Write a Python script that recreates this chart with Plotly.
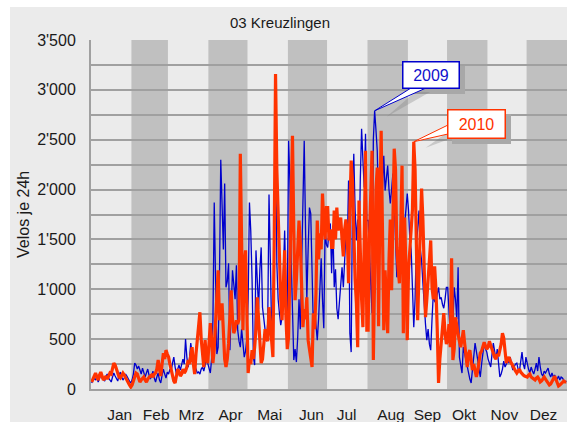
import plotly.graph_objects as go

# ---------------- data ----------------
months = ["Jan", "Feb", "Mrz", "Apr", "Mai", "Jun", "Jul", "Aug", "Sep", "Okt", "Nov", "Dez"]
month_days = [31, 28, 31, 30, 31, 30, 31, 31, 30, 31, 30, 31]
label_days = [22, 50, 77, 107, 137, 169, 196, 230, 258, 286, 317, 347]

velos_2009 = [
    [60, 80, 110, 90, 120, 70, 100, 140, 110, 90, 80, 130, 150, 110, 90, 70, 120, 160, 130, 100, 80, 140, 170, 120, 90, 110, 150, 130, 100, 80, 60],
    [90, 150, 260, 240, 200, 230, 180, 150, 210, 170, 120, 160, 200, 140, 100, 130, 180, 110, 70, 120, 160, 90, 60, 140, 200, 150, 110, 170],
    [150, 200, 180, 260, 320, 220, 150, 200, 240, 190, 260, 300, 250, 500, 320, 220, 300, 460, 360, 280, 240, 200, 160, 170, 150, 200, 220, 180, 250, 300, 260],
    [200, 160, 300, 690, 1870, 900, 350, 420, 1100, 2300, 1690, 1400, 2060, 1020, 1080, 1260, 390, 700, 1190, 1050, 900, 1240, 590, 480, 420, 600, 450, 320, 380, 500],
    [900, 1870, 1590, 1100, 320, 240, 1390, 1100, 800, 1200, 1420, 820, 720, 590, 480, 660, 1950, 1300, 590, 420, 1500, 2720, 1260, 900, 760, 640, 720, 1100, 1590, 1000, 760],
    [2490, 2100, 1290, 620, 290, 400, 270, 520, 900, 600, 1300, 1900, 2490, 1600, 900, 1400, 1820, 1760, 1100, 620, 800, 650, 490, 700, 1000, 1310, 900, 610, 1590, 1450],
    [1420, 1600, 1660, 1160, 1640, 1020, 1200, 810, 700, 900, 1000, 1220, 1020, 1300, 1560, 1400, 2090, 560, 370, 1890, 2360, 1800, 1490, 1700, 1300, 2100, 2610, 2300, 2020, 2560, 1690],
    [1690, 1400, 1100, 760, 2500, 2790, 2600, 2390, 1800, 1360, 1700, 2000, 2340, 1990, 2100, 2240, 2000, 1860, 2000, 2160, 1900, 1400, 1120, 1250, 1150, 1500, 1820, 1600, 1660, 1800, 1960],
    [1790, 1490, 1400, 1000, 620, 900, 1460, 1600, 1790, 1400, 1290, 1060, 800, 650, 490, 600, 450, 390, 700, 960, 880, 860, 950, 1020, 900, 920, 850, 810, 900, 1020],
    [1020, 700, 550, 520, 650, 1020, 900, 700, 1220, 320, 250, 160, 420, 350, 290, 250, 180, 100, 60, 200, 350, 460, 380, 300, 200, 120, 250, 380, 460, 400, 370],
    [300, 250, 220, 350, 460, 380, 300, 400, 250, 120, 150, 200, 280, 220, 250, 300, 260, 320, 240, 190, 220, 250, 260, 200, 180, 300, 370, 250, 200, 320],
    [250, 200, 160, 220, 180, 150, 200, 260, 180, 320, 220, 150, 130, 180, 160, 190, 210, 150, 120, 160, 120, 140, 110, 100, 130, 90, 120, 110, 90, 70, 80],
]

velos_2010 = [
    [70, 100, 130, 160, 120, 90, 140, 170, 130, 90, 110, 130, 100, 140, 160, 150, 200, 260, 240, 200, 150, 120, 110, 130, 160, 140, 110, 90, 60, 40, 20],
    [40, 80, 120, 160, 150, 110, 70, 90, 100, 120, 90, 70, 100, 120, 130, 140, 120, 150, 160, 200, 290, 200, 130, 250, 360, 300, 390, 350],
    [320, 250, 200, 120, 80, 60, 150, 200, 170, 130, 150, 200, 160, 180, 220, 290, 250, 350, 420, 250, 150, 350, 490, 600, 770, 500, 380, 220, 490, 300, 260],
    [490, 660, 500, 260, 400, 660, 900, 1190, 690, 750, 860, 520, 300, 220, 300, 460, 700, 990, 700, 560, 600, 690, 650, 700, 2360, 1200, 590, 1260, 1390, 800],
    [160, 300, 250, 390, 300, 420, 600, 920, 700, 490, 260, 300, 450, 600, 520, 480, 820, 650, 400, 320, 1500, 3160, 2200, 1720, 1400, 900, 690, 1100, 1390, 720, 400],
    [520, 1200, 1800, 2540, 1600, 890, 1100, 1500, 1690, 1460, 1000, 620, 800, 700, 920, 490, 400, 300, 220, 760, 600, 960, 1690, 1300, 1560, 1400, 1960, 1660, 1500, 1820],
    [1820, 1490, 1600, 1420, 1420, 1790, 1500, 1820, 1590, 1650, 1720, 1500, 1330, 1600, 1700, 1550, 1060, 1800, 2290, 2090, 1500, 1100, 860, 420, 1890, 1260, 900, 620, 1690, 2390, 590],
    [590, 1500, 2000, 2390, 290, 1330, 2000, 2220, 630, 1800, 2590, 1600, 590, 1190, 900, 560, 1290, 1700, 990, 1820, 2410, 2200, 1420, 1200, 1060, 1600, 2240, 560, 1720, 1200, 490],
    [1200, 1400, 1500, 1800, 2480, 2200, 1450, 690, 1160, 1500, 2010, 1700, 1230, 720, 900, 1090, 1300, 1490, 1020, 900, 1230, 1000, 600, 60, 300, 460, 620, 760, 560, 450],
    [500, 650, 420, 1310, 290, 400, 720, 600, 550, 480, 420, 500, 590, 460, 300, 220, 350, 390, 290, 190, 250, 200, 120, 180, 300, 360, 380, 420, 470, 430, 400],
    [420, 480, 440, 400, 350, 320, 300, 350, 330, 380, 450, 560, 510, 380, 260, 300, 320, 280, 250, 230, 200, 180, 160, 180, 200, 170, 150, 140, 130, 120],
    [120, 140, 150, 120, 110, 100, 90, 110, 120, 100, 70, 80, 100, 120, 100, 80, 60, 40, 50, 70, 100, 130, 100, 60, 30, 40, 50, 60, 80, 70, 70],
]

y_tick_values = list(range(0, 3501, 250))

# ---------------- helpers ----------------
month_start = [sum(month_days[:i]) for i in range(12)]
year_len = sum(month_days)


def flatten(series):
    xs, ys = [], []
    for m, vals in enumerate(series):
        for i, v in enumerate(vals):
            xs.append(month_start[m] + i + 0.5)
            ys.append(v)
    return xs, ys


x09, y09 = flatten(velos_2009)
x10, y10 = flatten(velos_2010)

W, H = 567, 422
L, R, T, B = 91, 567, 40, 389
YMAX = 3500


def px2x(px):
    return (px - L) / (R - L) * year_len


def py2y(py):
    return (B - py) / (B - T) * YMAX


def ppx(px):
    return (px - L) / (R - L)


def ppy(py):
    return (B - py) / (B - T)


FONT = "Liberation Sans, Arial, sans-serif"
BLUE = "#0000cc"
ORANGE = "#ff3300"

fig = go.Figure()
fig.add_trace(go.Scatter(x=x09, y=y09, mode="lines", name="2009",
                         line=dict(color=BLUE, width=1.3)))
fig.add_trace(go.Scatter(x=x10, y=y10, mode="lines", name="2010",
                         line=dict(color=ORANGE, width=3.2)))

shapes = []
# alternating month bands
for m in range(12):
    if m % 2 == 1:
        shapes.append(dict(type="rect", xref="x", yref="y",
                           x0=month_start[m], x1=month_start[m] + month_days[m],
                           y0=0, y1=YMAX, fillcolor="#c0c0c0",
                           line=dict(width=0), layer="below"))

# white frame strips (top and left)
shapes.append(dict(type="rect", xref="paper", yref="paper",
                   x0=ppx(0), x1=ppx(W), y0=ppy(7), y1=ppy(0),
                   fillcolor="white", line=dict(width=0)))
shapes.append(dict(type="rect", xref="paper", yref="paper",
                   x0=ppx(0), x1=ppx(10), y0=ppy(H), y1=ppy(0),
                   fillcolor="white", line=dict(width=0)))

# peak locations from the data
i09 = max(range(len(y09)), key=lambda k: y09[k])
tip09 = (x09[i09], y09[i09])
sep_start = month_start[8]
sep_idx = [k for k in range(len(x10)) if x10[k] > sep_start]
i10 = max(sep_idx, key=lambda k: y10[k])
tip10 = (x10[i10], y10[i10])

DX = year_len / (R - L)      # data units per pixel (x)
DY = YMAX / (B - T)          # data units per pixel (y)


def path(points):
    return "M " + " L ".join(f"{a},{b}" for a, b in points) + " Z"


def wedge(tip, base_px, color):
    off = [(px2x(p[0] + 4), py2y(p[1] + 4)) for p in base_px]
    shapes.append(dict(type="path", xref="x", yref="y",
                       path=path([(tip[0] + 12 * DX, tip[1] - 6 * DY)] + off),
                       fillcolor="rgba(120,120,120,0.3)", line=dict(width=0),
                       layer="above"))
    pts = [tip] + [(px2x(p[0]), py2y(p[1])) for p in base_px]
    shapes.append(dict(type="path", xref="x", yref="y", path=path(pts),
                       fillcolor="white", line=dict(color=color, width=1),
                       layer="above"))


def box_shadow(x0, y0, x1, y1):
    shapes.append(dict(type="rect", xref="x", yref="y",
                       x0=px2x(x0 + 5), x1=px2x(x1 + 5),
                       y0=py2y(y1 + 5), y1=py2y(y0 + 5),
                       fillcolor="#a8a8a8", line=dict(width=0), layer="above"))


box_shadow(402, 61, 460, 89)
box_shadow(447, 109, 506, 139)
wedge(tip09, [(411, 88), (426, 88)], BLUE)
wedge(tip10, [(448, 125), (448, 134)], ORANGE)

annotations = [
    dict(x=px2x(431), y=py2y(75), xref="x", yref="y", text="2009",
         showarrow=False, font=dict(family=FONT, size=16, color="#1010cc"),
         bgcolor="white", bordercolor=BLUE, borderwidth=1.5, borderpad=1,
         width=53, height=23),
    dict(x=px2x(476.5), y=py2y(124), xref="x", yref="y", text="2010",
         showarrow=False, font=dict(family=FONT, size=16, color=ORANGE),
         bgcolor="white", bordercolor=ORANGE, borderwidth=1.5, borderpad=1,
         width=54, height=25),
    dict(x=ppx(23), y=ppy(215), xref="paper", yref="paper", text="Velos je 24h",
         xanchor="center", yanchor="middle",
         showarrow=False, textangle=-90,
         font=dict(family=FONT, size=16, color="#1a1a1a")),
]

fig.update_layout(
    width=W, height=H,
    margin=dict(l=L, r=W - R, t=T, b=H - B),
    paper_bgcolor="#ebebeb",
    plot_bgcolor="#ebebeb",
    showlegend=False,
    title=dict(text="03 Kreuzlingen", x=280 / W, xanchor="center",
               y=1 - 23 / H, yanchor="middle",
               font=dict(family=FONT, size=15, color="#1a1a1a")),
    shapes=shapes,
    annotations=annotations,
    font=dict(family=FONT, color="#1a1a1a"),
)

fig.update_xaxes(range=[0, year_len], tickmode="array", tickvals=label_days,
                 ticktext=months, showgrid=False, zeroline=False,
                 showline=True, linecolor="#a0a0a0", linewidth=2,
                 ticks="outside", ticklen=10, tickcolor="rgba(0,0,0,0)",
                 tickfont=dict(family=FONT, size=15.5, color="#1a1a1a"))

fig.update_yaxes(range=[0, YMAX], tickmode="array", tickvals=y_tick_values,
                 ticktext=[(f"{v:,}".replace(",", "'") if v % 500 == 0 else "")
                           for v in y_tick_values],
                 showgrid=True, gridcolor="#a0a0a0", gridwidth=2,
                 zeroline=False, showline=True, linecolor="#a0a0a0", linewidth=2,
                 ticks="outside", ticklen=10, tickcolor="rgba(0,0,0,0)",
                 tickfont=dict(family=FONT, size=16, color="#1a1a1a"))

fig.write_html("out.html", config={"displayModeBar": False})

# remove the default page margin so the figure sits at the window's corner
with open("out.html", "r", encoding="utf-8") as f:
    html = f.read()
html = html.replace("<head>", "<head><style>html,body{margin:0;padding:0;overflow:hidden;}</style>", 1)
with open("out.html", "w", encoding="utf-8") as f:
    f.write(html)
